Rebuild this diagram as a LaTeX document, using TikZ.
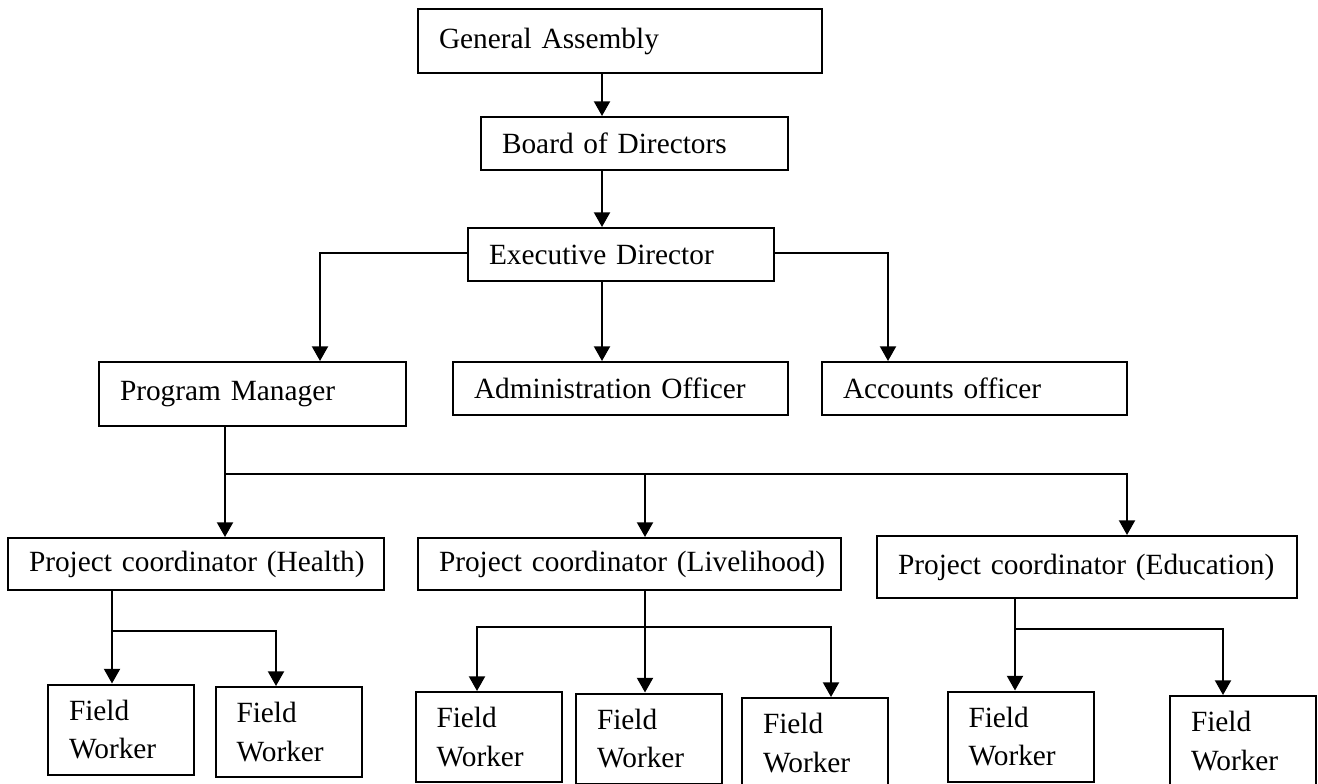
\documentclass[tikz,border=0pt]{standalone}
\usepackage{fontspec}
\setmainfont{Liberation Serif}
\usetikzlibrary{arrows.meta}

\tikzset{
  orgbox/.style={draw, line width=1.5pt, align=left, inner xsep=15.75pt, inner ysep=0pt,
    font=\fontsize{22}{29}\selectfont},
  fieldbox/.style={orgbox, text width=78pt, minimum height=67.5pt},
  link/.style={line width=1.5pt, -{Triangle[width=12pt,length=11pt]}}
}

\begin{document}
\begin{tikzpicture}[x=0.75pt,y=0.75pt,yscale=-1]

\path[use as bounding box, fill=white] (0,0) rectangle (1318,784);

%Top of the chart
\node[orgbox, text width=271.5pt, minimum height=48pt] (ga) at (620,41) {\mbox{General Assembly}};
\node[orgbox, text width=198.75pt, minimum height=39.75pt] (bd) at (634.5,143.5) {\mbox{Board of Directors}};
\node[orgbox, text width=198pt, minimum height=39.75pt] (ed) at (621,254.5) {\mbox{Executive Director}};

%Second row
\node[orgbox, text width=198.75pt, minimum height=48pt] (pm) at (252.5,394) {\mbox{Program Manager}};
\node[orgbox, text width=219.75pt, minimum height=39.75pt] (ao) at (620.5,388.5) {\mbox{Administration Officer}};
\node[orgbox, text width=197.25pt, minimum height=39.75pt] (ac) at (974.5,388.5) {\mbox{Accounts officer}};

%Project coordinators
\node[orgbox, text width=250.5pt, minimum height=39pt] (ph) at (196,564) {\mbox{Project coordinator (Health)}};
\node[orgbox, text width=285.75pt, minimum height=39pt] (pl) at (629.5,564) {\mbox{Project coordinator (Livelihood)}};
\node[orgbox, text width=283.5pt, minimum height=46.5pt] (pe) at (1087,567) {\mbox{Project coordinator (Education)}};

%Field workers
\node[fieldbox] (fh1) at (121,729.5) {Field\\Worker};
\node[fieldbox] (fh2) at (288.5,732) {Field\\Worker};
\node[fieldbox] (fl1) at (488.5,737) {Field\\Worker};
\node[fieldbox] (fl2) at (649,738.5) {Field\\Worker};
\node[fieldbox] (fl3) at (815,743) {Field\\Worker};
\node[fieldbox] (fe1) at (1020.5,736.5) {Field\\Worker};
\node[fieldbox] (fe2) at (1243,741) {Field\\Worker};

%Drop lines and buses
\coordinate (spine) at (602,0);
\coordinate (edl) at (320,253);
\coordinate (edr) at (888,253);
\coordinate (busPM) at (225,474);
\coordinate (dPL) at (645,0);
\coordinate (dPE) at (1127,0);
\coordinate (busPH) at (112,631);
\coordinate (dFH2) at (276,0);
\coordinate (busPL) at (645,627);
\coordinate (dFL1) at (477,0);
\coordinate (dFL3) at (831,0);
\coordinate (busPE) at (1015,629);
\coordinate (dFE2) at (1223,0);

%Connectors
\draw[link] (ga.south -| spine) -- (bd.north -| spine);
\draw[link] (bd.south -| spine) -- (ed.north -| spine);
\draw[link] (ed.south -| spine) -- (ao.north -| spine);
\draw[link] (ed.west |- edl) -| (pm.north -| edl);
\draw[link] (ed.east |- edr) -| (ac.north -| edr);

\draw[link] (pm.south -| busPM) -- (ph.north -| busPM);
\draw[link] (busPM) -| (pl.north -| dPL);
\draw[link] (busPM) -| (pe.north -| dPE);

\draw[link] (ph.south -| busPH) -- (fh1.north -| busPH);
\draw[link] (busPH) -| (fh2.north -| dFH2);

\draw[link] (pl.south -| busPL) -- (fl2.north -| busPL);
\draw[link] (busPL) -| (fl1.north -| dFL1);
\draw[link] (busPL) -| (fl3.north -| dFL3);

\draw[link] (pe.south -| busPE) -- (fe1.north -| busPE);
\draw[link] (busPE) -| (fe2.north -| dFE2);

\end{tikzpicture}
\end{document}
